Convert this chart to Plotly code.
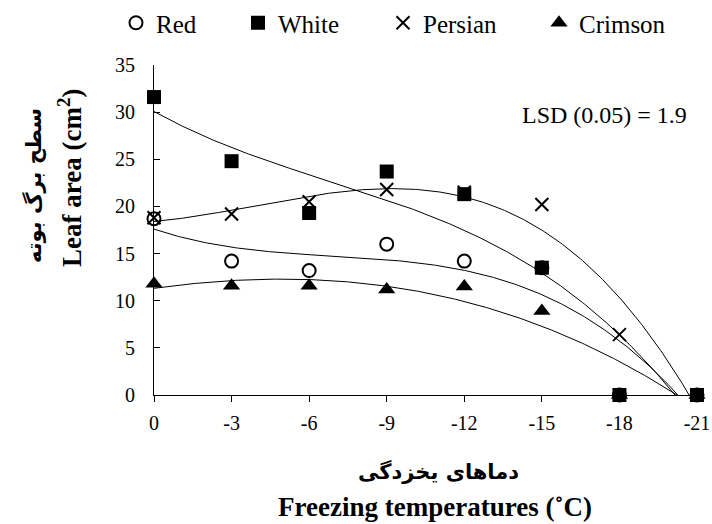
import numpy as np
import plotly.graph_objects as go

# Freezing temperatures (°C) and leaf area (cm²) per cultivar
temps = [0, -3, -6, -9, -12, -15, -18, -21]
red = [18.7, 14.2, 13.2, 16.0, 14.2, 13.5, 0, 0]
white = [31.6, 24.8, 19.3, 23.7, 21.3, 13.5, 0, 0]
persian = [18.8, 19.2, 20.5, 21.8, 21.5, 20.2, 6.4, 0]
crimson = [11.8, 11.6, 11.6, 11.2, 11.5, 8.9, 0, 0]
tick_labels = ["0", "-3", "-6", "-9", "-12", "-15", "-18", "-21"]

W, H = 712, 524
M_L, M_R, M_T, M_B = 154, 15, 65, 129
PLOT_W, PLOT_H = W - M_L - M_R, H - M_T - M_B
SERIF = "Liberation Serif, serif"
PERSIAN = "DejaVu Sans"


def px_to_paper(px, py):
    """Page pixel position -> plot-area paper coordinates."""
    return (px - M_L) / PLOT_W, (H - M_B - py) / PLOT_H


series = [
    ("Red", red, dict(symbol="circle-open", size=13, color="black", line=dict(width=2)), "legend", 154),
    ("White", white, dict(symbol="square", size=14, color="black"), "legend2", 276),
    ("Persian", persian, dict(symbol="x-thin-open", size=13, color="black",
                              line=dict(width=2, color="black")), "legend3", 421),
    ("Crimson", crimson, dict(symbol="triangle-up", size=15, color="black"), "legend4", 577),
]

fig = go.Figure()

x_fit = np.linspace(0, -21, 300)
for name, vals, marker, leg, _ in series:
    # third-order polynomial trend line through each cultivar's points
    coef = np.polyfit(temps, vals, 3)
    fig.add_trace(go.Scatter(x=x_fit, y=np.polyval(coef, x_fit), mode="lines",
                             line=dict(color="black", width=1), showlegend=False,
                             hoverinfo="skip"))

legends = {}
for name, vals, marker, leg, text_x in series:
    fig.add_trace(go.Scatter(x=temps, y=vals, mode="markers", name=name,
                             marker=marker, cliponaxis=False, legend=leg))
    # one single-entry legend per cultivar, laid out in a row above the plot
    lx, ly = px_to_paper(text_x - 38, 23)
    legends[leg] = dict(x=lx, xanchor="left", y=ly, yanchor="middle",
                        font=dict(size=25, family=SERIF, color="black"),
                        bgcolor="rgba(0,0,0,0)", itemwidth=30)

fig.update_layout(
    width=W, height=H,
    margin=dict(l=M_L, r=M_R, t=M_T, b=M_B, autoexpand=False),
    plot_bgcolor="white", paper_bgcolor="white",
    font=dict(family=SERIF, size=20, color="black"),
    xaxis=dict(range=[0, -21], tickvals=temps, ticktext=tick_labels,
               showgrid=False, zeroline=False, showline=True, linecolor="black",
               linewidth=1, ticks="outside", ticklen=6, tickcolor="black",
               ticklabelstandoff=4, tickfont=dict(size=20, family=SERIF)),
    yaxis=dict(range=[0, 35], tickvals=[0, 5, 10, 15, 20, 25, 30, 35],
               showgrid=False, zeroline=False, showline=True, linecolor="black",
               linewidth=1, ticks="inside", ticklen=6, tickcolor="black",
               ticklabelstandoff=14, tickfont=dict(size=20, family=SERIF)),
    showlegend=True,
    **legends,
)

# (page x, page y) centres of the free-standing texts
annotations = [
    dict(text="LSD (0.05) = 1.9", x=604, y=115, font=dict(size=24, family=SERIF)),
    dict(text="<b>سطح برگ بوته</b>", x=33, y=185, textangle=-90,
         font=dict(size=21, family=PERSIAN)),
    dict(text="<b>Leaf area (cm<sup>2</sup>)</b>", x=70, y=178, textangle=-90,
         font=dict(size=27, family=SERIF)),
    dict(text="<b>دماهای یخزدگی</b>", x=438, y=471,
         font=dict(size=21, family=PERSIAN)),
    dict(text="<b>Freezing temperatures (˚C)</b>", x=435, y=507,
         font=dict(size=27, family=SERIF)),
]
for a in annotations:
    ax, ay = px_to_paper(a["x"], a["y"])
    fig.add_annotation(
        text=a["text"], x=ax, y=ay, xref="paper", yref="paper",
        xanchor="center", yanchor="middle", showarrow=False,
        textangle=a.get("textangle", 0), font=dict(color="black", **a["font"]),
    )

fig.write_html("out.html")
